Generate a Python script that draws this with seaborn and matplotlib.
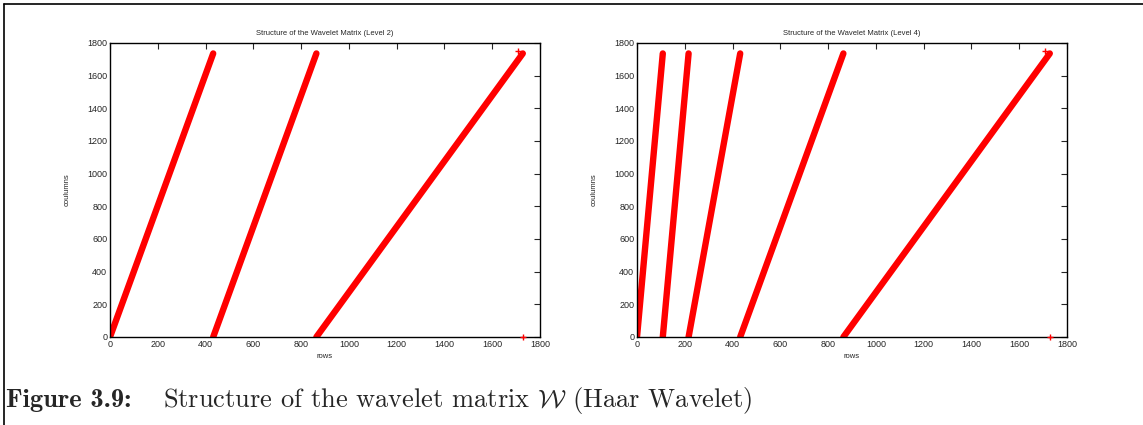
import numpy as np
import pandas as pd
import seaborn as sns
import matplotlib.pyplot as plt
from matplotlib.lines import Line2D

# band segments of the wavelet matrix: rows start/end, columns start/end
lvl2_row_start = [0, 432, 864]
lvl2_row_end = [432, 864, 1728]
lvl4_row_start = [0, 108, 216, 432, 864]
lvl4_row_end = [108, 216, 432, 864, 1728]
col_start = 0
col_end = 1736

# isolated entries (corner entry and key sample)
extra_rows = [1728, 1708]
extra_cols = [0, 1751]

titles = ["Structure of the Wavelet Matrix (Level 2)",
          "Structure of the Wavelet Matrix (Level 4)"]
ticks = [0, 200, 400, 600, 800, 1000, 1200, 1400, 1600, 1800]


def band_frame(starts, ends):
    recs = []
    for i, (s, e) in enumerate(zip(starts, ends)):
        recs.append({"band": i, "rows": s, "columns": col_start})
        recs.append({"band": i, "rows": e, "columns": col_end})
    return pd.DataFrame(recs)


sns.set_style("white")
plt.rcParams["font.family"] = ["Liberation Sans", "DejaVu Sans"]
plt.rcParams["mathtext.fontset"] = "cm"

fig = plt.figure(figsize=(11.43, 4.25), dpi=100)
ax1 = fig.add_axes([110 / 1143, 88 / 425, 430 / 1143, 294 / 425])
ax2 = fig.add_axes([637 / 1143, 88 / 425, 430 / 1143, 294 / 425])

for ax, (starts, ends), title in zip(
        [ax1, ax2],
        [(lvl2_row_start, lvl2_row_end), (lvl4_row_start, lvl4_row_end)],
        titles):
    df = band_frame(starts, ends)
    sns.lineplot(data=df, x="rows", y="columns", units="band", estimator=None,
                 color="red", lw=4.6, ax=ax, legend=False,
                 solid_capstyle="round")
    sns.scatterplot(x=extra_rows, y=extra_cols, marker="+", color="red",
                    s=16, linewidth=1.0, ax=ax, clip_on=False, zorder=5)
    ax.set_xlim(0, 1800)
    ax.set_ylim(0, 1800)
    ax.set_xticks(ticks)
    ax.set_yticks(ticks)
    ax.tick_params(direction="in", top=True, right=True, length=4,
                   width=0.8, labelsize=6.5, pad=2)
    for sp in ax.spines.values():
        sp.set_linewidth(1.0)
        sp.set_color("black")
    ax.set_title(title, fontsize=5.5, pad=6)
    ax.set_xlabel("rows", fontsize=5.5, labelpad=3)
    ax.set_ylabel("coulumns", fontsize=5.5, labelpad=12)

# page frame
fig.add_artist(Line2D([4 / 1143, 1], [1 - 4 / 425, 1 - 4 / 425],
                      color="black", lw=1.2, transform=fig.transFigure))
fig.add_artist(Line2D([4 / 1143, 4 / 1143], [0, 1 - 4 / 425],
                      color="black", lw=1.2, transform=fig.transFigure))

fig.text(6 / 1143, 1 - 400 / 425, "Figure 3.9:", fontsize=19,
         family="cmb10", va="center", ha="left")
fig.text(163 / 1143, 1 - 400 / 425,
         r"Structure of the wavelet matrix $\mathcal{W}$ (Haar Wavelet)",
         fontsize=19, family="cmr10", va="center", ha="left")

fig.savefig("out.png", dpi=100)
